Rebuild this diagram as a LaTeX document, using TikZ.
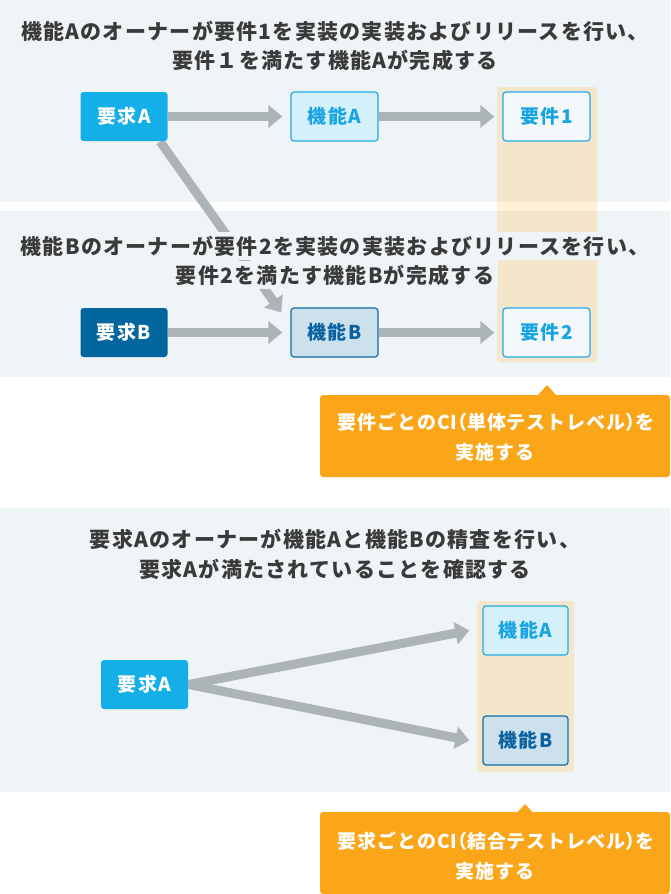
\documentclass[tikz,border=0pt]{standalone}
\usepackage{fontspec}
\setmainfont{Noto Sans CJK JP}[LetterSpace=4]
\usetikzlibrary{arrows.meta}
\pgfdeclarelayer{bg}
\pgfdeclarelayer{mid}
\pgfsetlayers{bg,mid,main}
\definecolor{panel}{HTML}{EFF4F7}
\definecolor{beige}{HTML}{F3E6CB}
\definecolor{beigew}{HTML}{FFF0D6}
\definecolor{arrowgray}{HTML}{ACB4B8}
\definecolor{cyanA}{HTML}{14AEE9}
\definecolor{navyB}{HTML}{03669F}
\definecolor{lightA}{HTML}{D4F0FB}
\definecolor{lightB}{HTML}{CCE1EC}
\definecolor{textA}{HTML}{1AA5E2}
\definecolor{textB}{HTML}{0B62A0}
\definecolor{bordA}{HTML}{22AAE5}
\definecolor{bordB}{HTML}{136CA5}
\definecolor{specfill}{HTML}{F4F8FA}
\definecolor{titlegray}{HTML}{3A3A3A}
\definecolor{calloutorange}{HTML}{FBA619}
\newfontfamily\boxfont{Noto Sans CJK JP}[LetterSpace=8]
\newfontfamily\titlefont{Noto Sans CJK JP}[LetterSpace=6]
\newfontfamily\callfont{Noto Sans CJK JP}[LetterSpace=5]
\newcommand{\hparen}[1]{{\addfontfeature{RawFeature=+halt}#1}}
\tikzset{
  box/.style={rounded corners=3pt, minimum width=87pt, minimum height=49pt, inner sep=0pt,
    font=\boxfont\fontsize{19}{21}\selectfont\bfseries, line width=1.2pt},
  reqbox/.style={box, fill=cyanA, text=white},
  reqbbox/.style={box, fill=navyB, text=white},
  funcabox/.style={box, fill=lightA, draw=bordA, text=textA},
  funcbbox/.style={box, fill=lightB, draw=bordB, text=textB},
  specbox/.style={box, fill=specfill, draw=bordA, text=textA},
  arr/.style={draw=arrowgray, line width=9pt, -{Triangle[length=14pt,width=22pt]}},
  tline/.style={anchor=base, inner sep=0pt, text=titlegray, font=\titlefont\fontsize{21}{24}\selectfont\bfseries},
  haloline/.style={tline, fill=panel, inner xsep=4pt, inner ysep=4pt},
  cline/.style={anchor=base, inner sep=0pt, text=white, font=\callfont\fontsize{19}{22}\selectfont\bfseries},
  callout/.style={fill=calloutorange, rounded corners=3pt, minimum width=350pt, minimum height=82pt, inner sep=0pt},
}
\begin{document}
\begin{tikzpicture}[x=1pt,y=-1pt]
\useasboundingbox (0,0) rectangle (670,894);
\begin{pgfonlayer}{bg}
\fill[white] (0,0) rectangle (670,894);
\fill[panel] (0,0) rectangle (670,202);
\fill[panel] (0,211) rectangle (670,377);
\fill[panel] (0,508) rectangle (670,792);
\fill[beige, rounded corners=3pt] (497,87) rectangle (597,362);
\fill[beigew] (497,202) rectangle (597,211);
\fill[beige, rounded corners=3pt] (477,601) rectangle (574,772);
\end{pgfonlayer}
% titles
\node[tline] (t1a) at (335,39) {機能Aのオーナーが要件1を実装の実装およびリリースを行い、};
\node[tline] (t1b) at (335,68) {要件１を満たす機能Aが完成する};
\node[haloline] (t2a) at (335,254) {機能Bのオーナーが要件2を実装の実装およびリリースを行い、};
\node[haloline] (t2b) at (335,283) {要件2を満たす機能Bが完成する};
\node[tline] (t3a) at (335,547) {要求Aのオーナーが機能Aと機能Bの精査を行い、};
\node[tline] (t3b) at (335,577) {要求Aが満たされていることを確認する};
% boxes
\node[reqbox] (reqA) at (124,116.5) {要求A};
\node[funcabox] (funcA) at (334.5,116.5) {機能A};
\node[specbox] (spec1) at (546.5,116.5) {要件1};
\node[reqbbox] (reqB) at (124,332.5) {要求B};
\node[funcbbox] (funcB) at (334.5,332.5) {機能B};
\node[specbox] (spec2) at (546.5,332.5) {要件2};
\node[reqbox] (reqA3) at (144.5,684.5) {要求A};
\node[funcabox, minimum width=85pt] (funcA3) at (525.5,630.5) {機能A};
\node[funcbbox, minimum width=85pt] (funcB3) at (525.5,740.5) {機能B};
% arrows
\begin{pgfonlayer}{mid}
\draw[arr] (reqA.east) -- ([xshift=-8pt]funcA.west);
\draw[arr] (funcA.east) -- ([xshift=-8pt]spec1.west);
\draw[arr] (reqB.east) -- ([xshift=-8pt]funcB.west);
\draw[arr] (funcB.east) -- ([xshift=-8pt]spec2.west);
\coordinate (dstart) at ([xshift=-8pt]reqA.south east);
\draw[arr] (dstart) -- ([shift={(-9pt,-5pt)}]funcB.north west);
\draw[arr] (reqA3.east) -- ([xshift=-13pt]funcA3.west);
\draw[arr] (reqA3.east) -- ([xshift=-13pt]funcB3.west);
\end{pgfonlayer}
% callouts
\node[callout] (co1) at (495,436) {};
\fill[calloutorange] (537,396) -- (547,385) -- (557,396) -- cycle;
\node[cline] (c1a) at (496,429.2) {要件ごとのCI\hparen{（}単体テストレベル\hparen{）}を};
\node[cline] (c1b) at (495,459.2) {実施する};
\node[callout] (co2) at (495,853) {};
\fill[calloutorange] (515,815) -- (525,804) -- (535,815) -- cycle;
\node[cline] (c2a) at (496,848.2) {要求ごとのCI\hparen{（}結合テストレベル\hparen{）}を};
\node[cline] (c2b) at (495,878.2) {実施する};
\end{tikzpicture}
\end{document}
